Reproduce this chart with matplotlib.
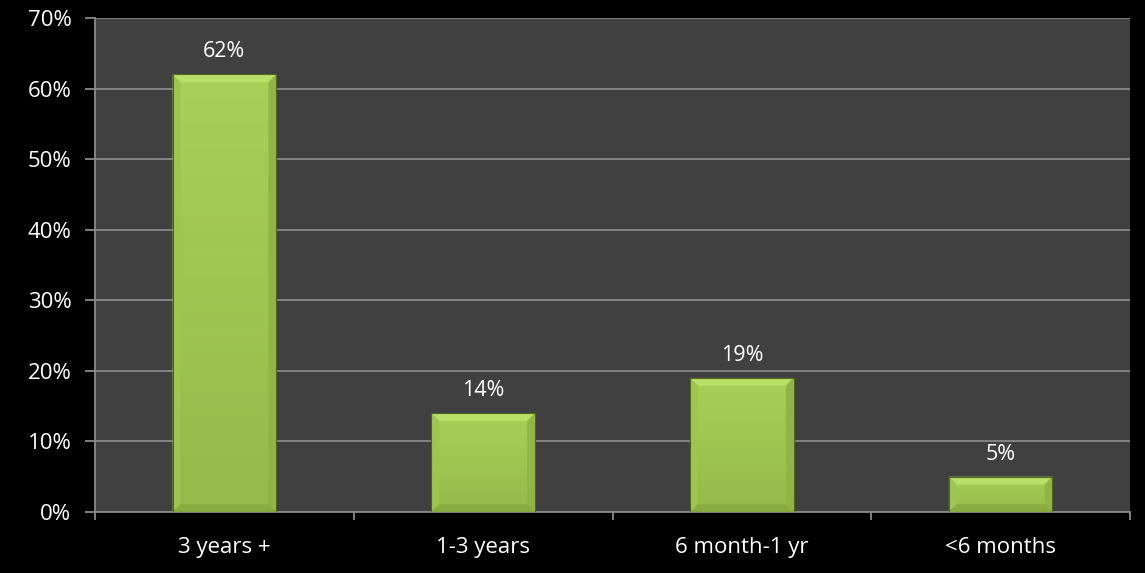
import matplotlib
matplotlib.use("Agg")
import matplotlib.pyplot as plt
import numpy as np
from matplotlib.ticker import FixedLocator, NullFormatter, FuncFormatter
from matplotlib.colors import LinearSegmentedColormap
from matplotlib.patches import Polygon

categories = ["3 years +", "1-3 years", "6 month-1 yr", "<6 months"]
values = [62, 14, 19, 5]
yticks = [0, 10, 20, 30, 40, 50, 60, 70]

plt.rcParams['font.family'] = ['Open Sans', 'DejaVu Sans']

fig = plt.figure(figsize=(11.45, 5.73), dpi=100, facecolor='black')
ax = fig.add_axes([95/1145, 61/573, 1035/1145, 494/573])
ax.set_facecolor('#404040')

x = np.arange(len(categories))
bars = ax.bar(x, values, width=0.40, color='#9ec44e', edgecolor='none', linewidth=0, zorder=3)

ax.set_xlim(-0.5, len(categories) - 0.5)
ax.set_ylim(0, 70)

# bevelled look built from each bar's own geometry
grad = np.linspace(0, 1, 256).reshape(-1, 1)
cmap = LinearSegmentedColormap.from_list('g', ['#a8d058', '#96ba4b'])
dx, dy = 0.03, 1.1
for b in bars:
    bx, by = b.get_x(), b.get_y()
    w, h = b.get_width(), b.get_height()
    top = by + h
    im = ax.imshow(grad, extent=[bx, bx + w, by, top], aspect='auto', cmap=cmap,
                   origin='upper', zorder=3.5)
    im.set_clip_path(b)
    polys = [
        ([(bx, top), (bx + w, top), (bx + w - dx, top - dy), (bx + dx, top - dy)], '#b8e066'),
        ([(bx, by), (bx, top), (bx + dx, top - dy), (bx + dx, by + dy)], '#9ec64f'),
        ([(bx + w, by), (bx + w, top), (bx + w - dx, top - dy), (bx + w - dx, by + dy)], '#91b446'),
        ([(bx, by), (bx + w, by), (bx + w - dx, by + dy), (bx + dx, by + dy)], '#8aab40'),
    ]
    for pts, c in polys:
        ax.add_patch(Polygon(pts, closed=True, facecolor=c, edgecolor='none', zorder=3.6))
    ax.add_patch(Polygon([(bx, by), (bx, top), (bx + w, top), (bx + w, by)], closed=True,
                         facecolor='none', edgecolor='#4f6622', linewidth=0.8, zorder=3.7))

for xi, v in zip(x, values):
    ax.text(xi, v + 1.7, f"{v}%", ha='center', va='bottom', color='white', fontsize=15.5, zorder=5)

ax.set_yticks(yticks)
ax.yaxis.set_major_formatter(FuncFormatter(lambda v, p: f"{int(v)}%"))
ax.grid(axis='y', color='#8a8a8a', linewidth=1.3, zorder=1)
ax.set_axisbelow(True)

ax.xaxis.set_major_locator(FixedLocator(np.arange(-0.5, len(categories), 1.0)))
ax.xaxis.set_major_formatter(NullFormatter())
ax.xaxis.set_minor_locator(FixedLocator(x))
ax.set_xticklabels(categories, minor=True)
ax.tick_params(axis='x', which='major', length=6, color='#8a8a8a', width=1.3)
ax.tick_params(axis='x', which='minor', length=0, pad=18, labelcolor='white', labelsize=16)
ax.tick_params(axis='y', length=7, color='#8a8a8a', width=1.3, labelcolor='white', labelsize=16, pad=10)

for s in ['top', 'right']:
    ax.spines[s].set_visible(False)
ax.spines['left'].set_color('#8a8a8a')
ax.spines['left'].set_linewidth(1.3)
ax.spines['bottom'].set_color('#8a8a8a')
ax.spines['bottom'].set_linewidth(1.3)

fig.savefig('out.png', dpi=100, facecolor='black')
